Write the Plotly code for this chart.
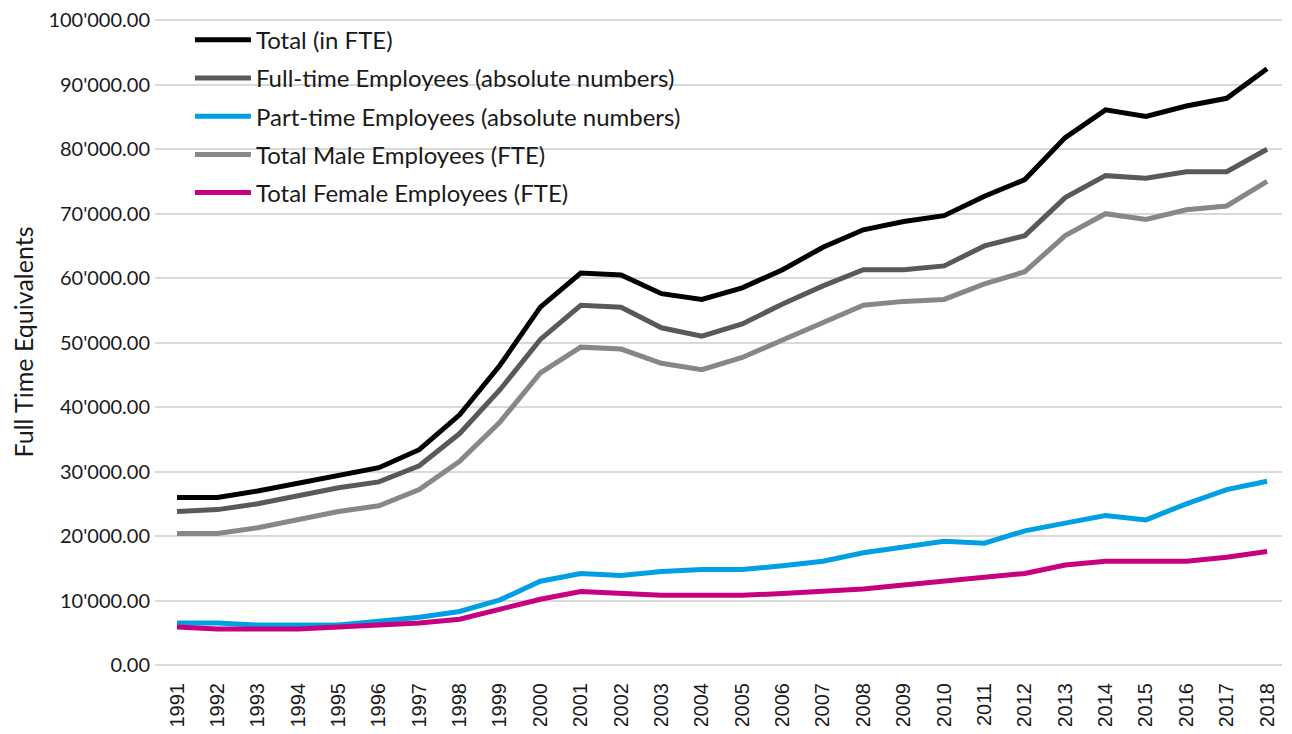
"""
Employment trend chart for FTE analysis.
Provides consistent styling and a reusable line plotting function.
"""

import plotly.graph_objects as go
from typing import List

# Color palette for consistent styling
COLORS = {
    'total': '#000000',
    'full_time': '#595959',
    'part_time': '#009FE3',
    'male': '#878787',
    'female': '#C6007E',
    'grid': '#D9D9D9'
}

YEARS = [str(y) for y in range(1991, 2019)]

TOTAL_FTE = [26000, 26000, 27000, 28200, 29400, 30600, 33400, 38800, 46500, 55500,
             60800, 60500, 57600, 56700, 58500, 61300, 64800, 67500, 68800, 69700,
             72700, 75300, 81800, 86100, 85100, 86700, 87900, 92500]
FULL_TIME = [23800, 24100, 25000, 26300, 27500, 28400, 30900, 35900, 42700, 50500,
             55800, 55500, 52300, 51000, 52900, 56000, 58800, 61300, 61300, 61900,
             65000, 66600, 72500, 75900, 75500, 76500, 76500, 80000]
PART_TIME = [6500, 6500, 6200, 6200, 6200, 6800, 7400, 8300, 10100, 13000,
             14200, 13900, 14500, 14800, 14800, 15400, 16100, 17400, 18300, 19200,
             18900, 20800, 22000, 23200, 22500, 25000, 27200, 28500]
MALE_FTE = [20400, 20400, 21300, 22600, 23800, 24700, 27200, 31600, 37700, 45300,
            49300, 49000, 46800, 45800, 47700, 50400, 53000, 55800, 56400, 56700,
            59100, 61000, 66600, 70000, 69100, 70600, 71200, 75000]
FEMALE_FTE = [5900, 5600, 5600, 5600, 5900, 6200, 6500, 7100, 8600, 10200,
              11400, 11100, 10800, 10800, 10800, 11100, 11500, 11800, 12400, 13000,
              13600, 14200, 15500, 16100, 16100, 16100, 16700, 17600]

SERIES_NAMES = [
    'Total (in FTE)',
    'Full-time Employees (absolute numbers)',
    'Part-time Employees (absolute numbers)',
    'Total Male Employees (FTE)',
    'Total Female Employees (FTE)'
]

Y_MAX = 100000


def apply_default_layout(fig: go.Figure) -> go.Figure:
    """Apply consistent layout styling to a plotly figure."""
    fig.update_layout(
        width=1276,  # page body keeps its 8px margin
        height=718,
        font=dict(family="Lato, sans-serif", size=20, color='#1a1a1a'),
        plot_bgcolor='white',
        paper_bgcolor='white',
        separators=".'",
        margin=dict(l=147, r=2, t=11, b=61),
        legend=dict(
            x=0.031,
            y=1.002,
            xanchor="left",
            yanchor="top",
            bgcolor='rgba(0,0,0,0)',
            tracegroupgap=4,
            itemwidth=56,
            font=dict(size=24)
        )
    )
    fig.update_xaxes(
        showgrid=False, showline=False, ticks='', tickangle=-90, automargin=False,
        tickfont=dict(family="Liberation Sans, Arial, sans-serif", size=20),
        ticklabelstandoff=13,
        range=[-0.545, len(YEARS) - 0.63]
    )
    fig.update_yaxes(
        showgrid=True, gridwidth=1.5, gridcolor=COLORS['grid'], automargin=False,
        zeroline=True, zerolinecolor=COLORS['grid'], zerolinewidth=1.5,
        range=[0, Y_MAX * 1.002], dtick=10000, tickformat=',.2f',  # headroom for top grid line
        tickfont=dict(size=20), ticklabelstandoff=4, ticklabeloverflow='allow'
    )
    # top grid line is dropped by plotly, draw it the same way
    fig.add_hline(y=Y_MAX, line_color=COLORS['grid'], line_width=1.5, layer='below')
    return fig


def employment_lines(
    years: List[str],
    series: List[List[float]],
    names: List[str],
    colors: List[str]
) -> go.Figure:
    """Create a line chart of employment series over the years."""

    fig = go.Figure()

    for i, (values, name, color) in enumerate(zip(series, names, colors)):
        fig.add_trace(go.Scatter(
            x=years,
            y=values,
            mode='lines',
            name=name,
            legendgroup=f'g{i}',
            line=dict(color=color, width=5)
        ))

    fig.update_layout(
        yaxis_title='Full Time Equivalents'
    )
    fig.update_yaxes(title_standoff=32, title_font=dict(size=25))

    return apply_default_layout(fig)


fig = employment_lines(
    YEARS,
    [TOTAL_FTE, FULL_TIME, PART_TIME, MALE_FTE, FEMALE_FTE],
    SERIES_NAMES,
    [COLORS['total'], COLORS['full_time'], COLORS['part_time'],
     COLORS['male'], COLORS['female']]
)
fig.write_html("out.html")
